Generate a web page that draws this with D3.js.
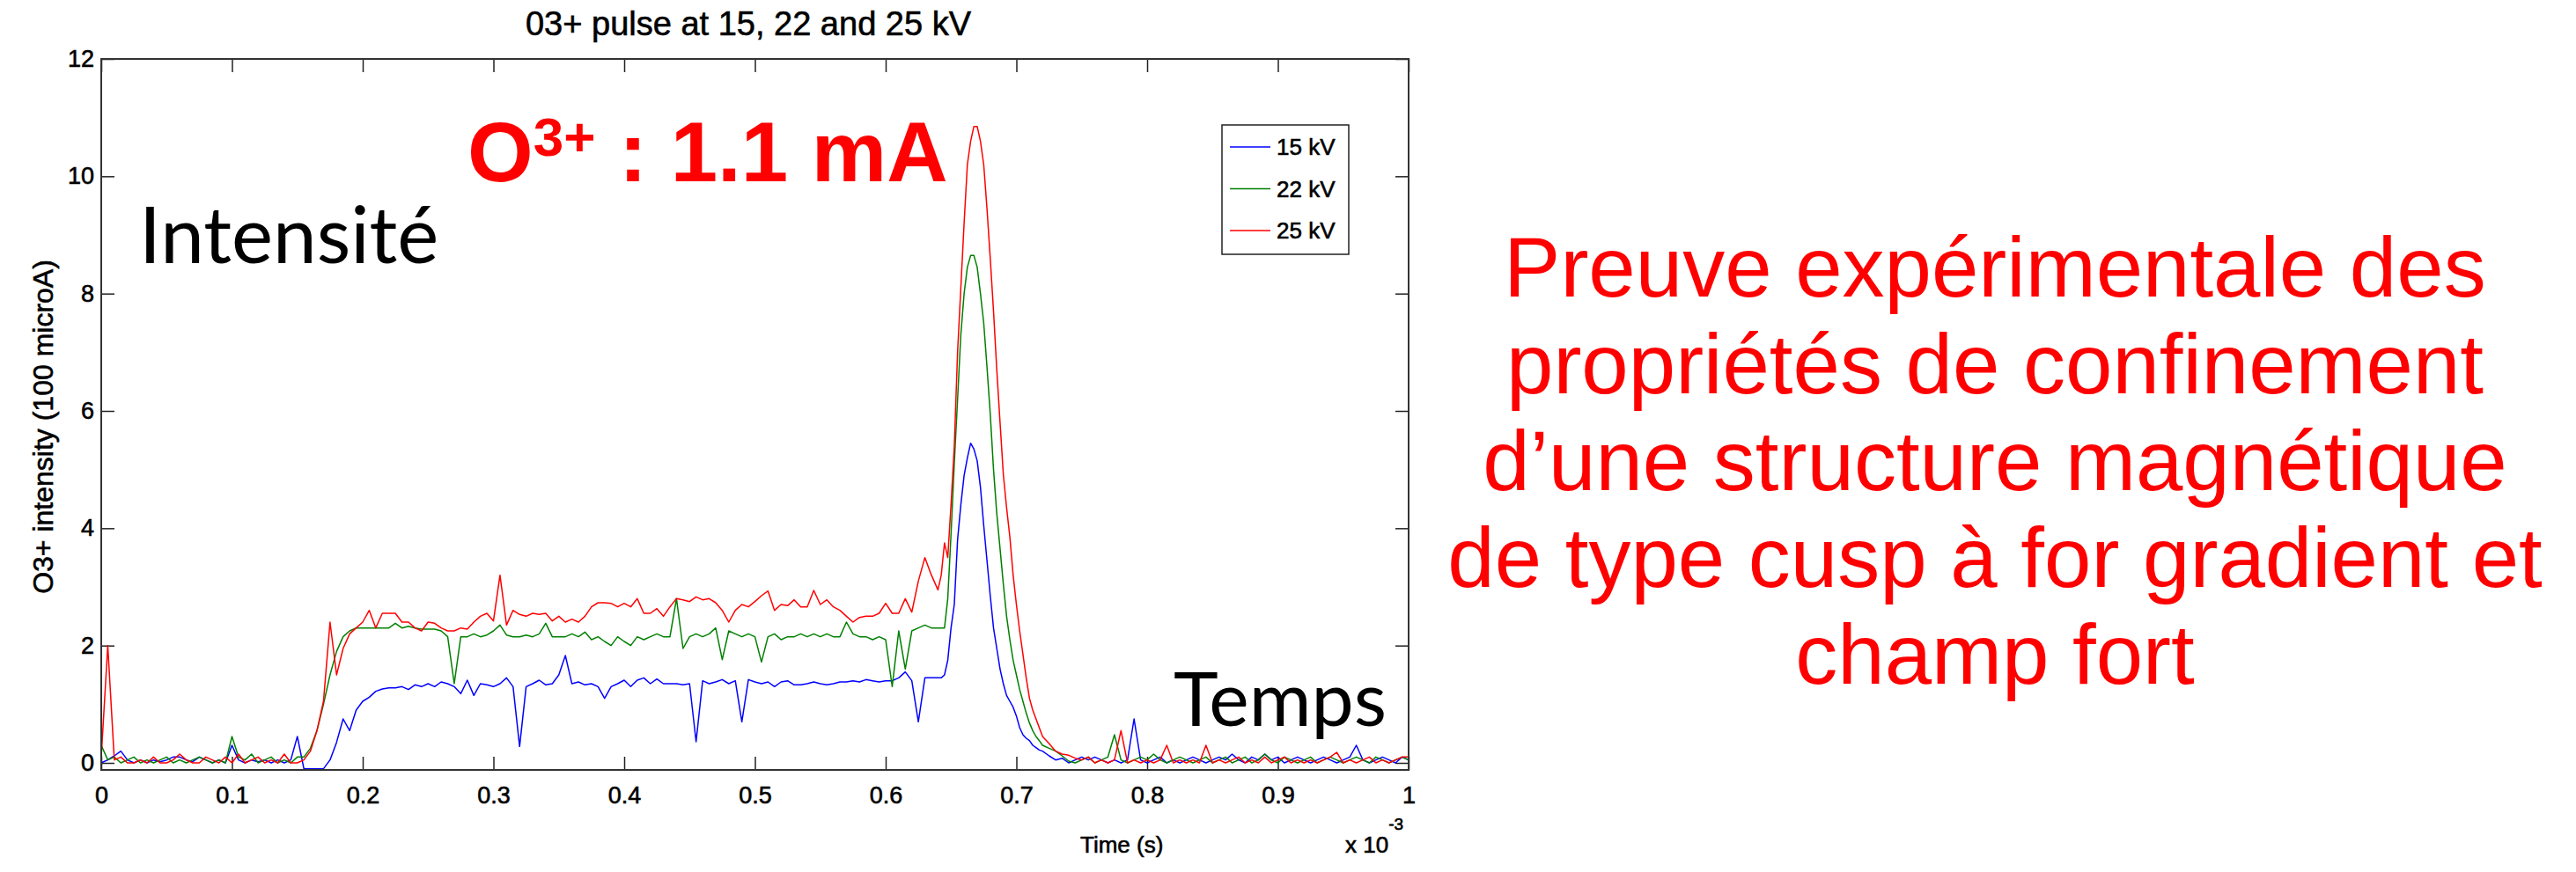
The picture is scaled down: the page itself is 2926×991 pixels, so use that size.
<!DOCTYPE html>
<meta charset="utf-8">
<html>
<head>
<script src="https://d3js.org/d3.v7.min.js"></script>
<style>
  body { margin: 0; background: #fff; }
  svg text { font-family: "Liberation Sans", Arial, sans-serif; }
  .mat { stroke: #000; stroke-width: 0.6px; }
</style>
</head>
<body>
<div id="chart"></div>
<script>
// time axis in units of 1e-3 s
const timeMs = [
  0, 0.005, 0.01, 0.015, 0.02, 0.025, 0.03, 0.035, 0.04, 0.045,
  0.05, 0.055, 0.06, 0.065, 0.07, 0.075, 0.08, 0.085, 0.09, 0.095,
  0.1, 0.105, 0.11, 0.115, 0.12, 0.125, 0.13, 0.135, 0.14, 0.145,
  0.15, 0.155, 0.16, 0.165, 0.17, 0.175, 0.18, 0.185, 0.19, 0.195,
  0.2, 0.205, 0.21, 0.215, 0.22, 0.225, 0.23, 0.235, 0.24, 0.245,
  0.25, 0.255, 0.26, 0.265, 0.27, 0.275, 0.28, 0.285, 0.29, 0.295,
  0.3, 0.305, 0.31, 0.315, 0.32, 0.325, 0.33, 0.335, 0.34, 0.345,
  0.35, 0.355, 0.36, 0.365, 0.37, 0.375, 0.38, 0.385, 0.39, 0.395,
  0.4, 0.405, 0.41, 0.415, 0.42, 0.425, 0.43, 0.435, 0.44, 0.445,
  0.45, 0.455, 0.46, 0.465, 0.47, 0.475, 0.48, 0.485, 0.49, 0.495,
  0.5, 0.505, 0.51, 0.515, 0.52, 0.525, 0.53, 0.535, 0.54, 0.545,
  0.55, 0.555, 0.56, 0.565, 0.57, 0.575, 0.58, 0.585, 0.59, 0.595,
  0.6, 0.605, 0.61, 0.615, 0.62, 0.625, 0.63, 0.635, 0.64,
  0.6425, 0.645, 0.6475, 0.65, 0.6525, 0.655, 0.6575, 0.66, 0.6625, 0.665,
  0.6675, 0.67, 0.6725, 0.675, 0.6775, 0.68, 0.6825, 0.685, 0.6875, 0.69,
  0.6925, 0.695, 0.6975, 0.7, 0.7025, 0.705, 0.7075, 0.71, 0.7125, 0.715,
  0.7175, 0.72,
  0.725, 0.73, 0.735, 0.74, 0.745, 0.75, 0.755, 0.76, 0.765, 0.77,
  0.775, 0.78, 0.785, 0.79, 0.795, 0.8, 0.805, 0.81, 0.815, 0.82,
  0.825, 0.83, 0.835, 0.84, 0.845, 0.85, 0.855, 0.86, 0.865, 0.87,
  0.875, 0.88, 0.885, 0.89, 0.895, 0.9, 0.905, 0.91, 0.915, 0.92,
  0.925, 0.93, 0.935, 0.94, 0.945, 0.95, 0.955, 0.96, 0.965, 0.97,
  0.975, 0.98, 0.985, 0.99, 0.995, 1
];

// 15 kV
const pulse15 = [
  0.0, 0.05, 0.12, 0.2, 0.05, 0.0, 0.05, 0.0, 0.05, 0.02,
  0.05, 0.1, 0.1, 0.05, 0.02, 0.1, 0.05, 0.0, 0.05, 0.0,
  0.3, 0.05, 0.0, 0.05, 0.02, 0.05, 0.0, 0.05, 0.0, 0.05,
  0.45, -0.1, -0.1, -0.1, -0.1, 0.05, 0.35, 0.75, 0.55, 0.9,
  1.05, 1.12, 1.22, 1.26, 1.28, 1.28, 1.3, 1.25, 1.33, 1.3,
  1.35, 1.3, 1.38, 1.35, 1.3, 1.18, 1.41, 1.15, 1.35, 1.33,
  1.3, 1.35, 1.45, 1.3, 0.28, 1.3, 1.35, 1.41, 1.33, 1.35,
  1.5, 1.83, 1.35, 1.38, 1.33, 1.35, 1.3, 1.1, 1.3, 1.35,
  1.41, 1.3, 1.41, 1.45, 1.35, 1.43, 1.35, 1.35, 1.35, 1.33,
  1.35, 0.36, 1.4, 1.35, 1.38, 1.42, 1.35, 1.4, 0.7, 1.42,
  1.38, 1.35, 1.38, 1.3, 1.38, 1.4, 1.33, 1.33, 1.35, 1.38,
  1.35, 1.33, 1.35, 1.38, 1.38, 1.4, 1.38, 1.42, 1.4, 1.38,
  1.4, 1.4, 1.45, 1.55, 1.4, 0.7, 1.45, 1.45, 1.45,
  1.45, 1.5, 1.75, 2.3, 2.7, 3.8, 4.4, 4.9, 5.2, 5.45,
  5.35, 5.15, 4.7, 4.05, 3.45, 2.85, 2.3, 1.95, 1.6, 1.35,
  1.15, 1.05, 0.95, 0.8, 0.6, 0.48, 0.42, 0.38, 0.3, 0.26,
  0.22, 0.2,
  0.12, 0.05, 0.08, 0.0, 0.05, 0.1, 0.05, 0.1, 0.05, 0.0,
  0.05, 0.0, 0.05, 0.75, 0.05, 0.0, 0.05, 0.1, 0.0, 0.05,
  0.0, 0.05, 0.1, 0.05, 0.0, 0.05, 0.1, 0.05, 0.15, 0.05,
  0.0, 0.1, 0.05, 0.15, 0.05, 0.1, 0.0, 0.05, 0.1, 0.05,
  0.0, 0.05, 0.1, 0.05, 0.0, 0.05, 0.1, 0.3, 0.05, 0.0,
  0.05, 0.1, 0.05, 0.0, 0.1, 0.05
];

// 22 kV
const pulse22 = [
  0.3, 0.05, 0.1, 0.0, 0.05, 0.1, 0.0, 0.05, 0.0, 0.05,
  0.1, 0.0, 0.05, 0.0, 0.05, 0.1, 0.05, 0.0, 0.05, 0.0,
  0.45, 0.1, 0.05, 0.15, 0.0, 0.05, 0.1, 0.0, 0.05, 0.0,
  0.1, 0.1, 0.25, 0.55, 1.0, 1.5, 1.9, 2.15, 2.25, 2.3,
  2.3, 2.3, 2.3, 2.3, 2.3, 2.38, 2.3, 2.33, 2.3, 2.28,
  2.28, 2.28, 2.25, 2.15, 1.35, 2.15, 2.15, 2.2, 2.15, 2.18,
  2.25, 2.35, 2.18, 2.15, 2.15, 2.18, 2.15, 2.2, 2.38, 2.15,
  2.15, 2.15, 2.2, 2.15, 2.23, 2.1, 2.15, 2.07, 2.0, 2.15,
  2.07, 2.0, 2.15, 2.1, 2.15, 2.2, 2.15, 2.15, 2.8, 1.95,
  2.15, 2.2, 2.15, 2.2, 2.3, 1.76, 2.25, 2.2, 2.15, 2.2,
  2.15, 1.72, 2.15, 2.2, 2.1, 2.15, 2.15, 2.2, 2.15, 2.2,
  2.15, 2.2, 2.15, 2.15, 2.4, 2.2, 2.15, 2.15, 2.1, 2.15,
  2.1, 1.3, 2.25, 1.6, 2.25, 2.3, 2.35, 2.3, 2.3,
  2.3, 2.3, 2.8, 3.9, 5.1, 6.2, 7.3, 8.0, 8.45, 8.65,
  8.65, 8.45, 8.0, 7.5, 6.75, 5.95, 5.0, 4.25, 3.65, 3.05,
  2.5, 2.1, 1.75, 1.5, 1.25, 1.05, 0.85, 0.68, 0.55, 0.45,
  0.38, 0.3,
  0.25, 0.2, 0.12, 0.03, 0.0, 0.05, 0.1, 0.0, 0.05, 0.1,
  0.48, 0.05, 0.0, 0.05, 0.1, 0.05, 0.15, 0.05, 0.0, 0.05,
  0.1, 0.05, 0.0, 0.05, 0.1, 0.0, 0.05, 0.1, 0.0, 0.05,
  0.1, 0.0, 0.05, 0.15, 0.05, 0.0, 0.1, 0.05, 0.0, 0.05,
  0.1, 0.0, 0.05, 0.1, 0.05, 0.0, 0.05, 0.1, 0.05, 0.0,
  0.1, 0.05, 0.0, 0.05, 0.1, 0.05
];

// 25 kV
const pulse25 = [
  0.1, 2.0, 0.05, 0.1, 0.0, 0.0, 0.05, 0.0, 0.1, 0.0,
  0.0, 0.05, 0.15, 0.05, 0.0, 0.0, 0.1, 0.05, 0.0, 0.1,
  0.0, 0.15, 0.0, 0.05, 0.1, 0.0, 0.05, 0.0, 0.15, 0.0,
  0.0, 0.05, 0.2, 0.55, 1.05, 2.4, 1.5, 1.95, 2.2, 2.3,
  2.4, 2.6, 2.3, 2.55, 2.55, 2.55, 2.4, 2.4, 2.3, 2.25,
  2.4, 2.38, 2.3, 2.25, 2.25, 2.3, 2.28, 2.4, 2.5, 2.55,
  2.42, 3.2, 2.35, 2.6, 2.53, 2.5, 2.55, 2.53, 2.55, 2.42,
  2.5, 2.4, 2.45, 2.4, 2.5, 2.66, 2.73, 2.73, 2.72, 2.66,
  2.72, 2.66, 2.8, 2.55, 2.55, 2.63, 2.5, 2.66, 2.8, 2.78,
  2.75, 2.83, 2.78, 2.8, 2.73, 2.6, 2.4, 2.6, 2.7, 2.66,
  2.75, 2.85, 2.93, 2.6, 2.7, 2.68, 2.78, 2.66, 2.66, 2.94,
  2.7, 2.78, 2.66, 2.6, 2.5, 2.4, 2.48, 2.5, 2.5, 2.55,
  2.72, 2.55, 2.55, 2.8, 2.57, 3.1, 3.5, 3.2, 2.95,
  3.2, 3.75, 3.5, 4.4, 5.4, 7.0, 8.1, 9.2, 10.2, 10.6,
  10.85, 10.85, 10.6, 10.2, 9.45, 8.6, 7.7, 6.7, 5.8, 4.92,
  4.35, 3.85, 3.2, 2.7, 2.25, 1.85, 1.45, 1.1, 0.9, 0.75,
  0.6, 0.45,
  0.33, 0.2, 0.15, 0.13, 0.08, 0.05, 0.1, 0.0, 0.05, 0.0,
  0.05, 0.55, 0.0, 0.05, 0.0, 0.05, 0.0, 0.05, 0.3, 0.0,
  0.05, 0.0, 0.05, 0.0, 0.3, 0.0, 0.05, 0.0, 0.05, 0.1,
  0.0, 0.05, 0.0, 0.1, 0.0, 0.05, 0.1, 0.0, 0.05, 0.0,
  0.05, 0.0, 0.05, 0.1, 0.18, 0.0, 0.05, 0.0, 0.05, 0.1,
  0.0, 0.05, 0.0, 0.05, 0.1, 0.1
];

const seriesNames = ["15 kV", "22 kV", "25 kV"];
const seriesColors = ["#0000ff", "#008000", "#ff0000"];
const xTicks = [0, 0.1, 0.2, 0.3, 0.4, 0.5, 0.6, 0.7, 0.8, 0.9, 1];
const yTicks = [0, 2, 4, 6, 8, 10, 12];

const slideLines = [
    "Preuve expérimentale des",
    "propriétés de confinement",
    "d’une structure magnétique",
    "de type cusp à for gradient et",
    "champ fort"
];

const W = 2926, H = 991;
const plot = { left: 115, right: 1600, top: 67, bottom: 875 };

const svg = d3.select("#chart").append("svg")
    .attr("width", W)
    .attr("height", H);

const x = d3.scaleLinear().domain([0, 1]).range([plot.left, plot.right]);
const y = d3.scaleLinear().domain([-0.12, 12]).range([plot.bottom, plot.top]);

// ticks inside the box, matlab style
const tickLen = 15;
const axisStyle = g => {
    g.select(".domain").remove();
    g.selectAll("line").attr("stroke", "#222").attr("stroke-width", 1.5);
    g.selectAll("text").attr("fill", "#000").attr("font-size", 27).attr("class", "mat");
};

svg.append("g")
    .attr("transform", `translate(0,${plot.bottom})`)
    .call(d3.axisBottom(x).tickValues(xTicks).tickSizeInner(-tickLen).tickPadding(19)
        .tickFormat(d => d3.format("")(d)))
    .call(axisStyle);
svg.append("g")
    .attr("transform", `translate(0,${plot.top})`)
    .call(d3.axisTop(x).tickValues(xTicks).tickSizeInner(-tickLen).tickFormat(""))
    .call(axisStyle);
svg.append("g")
    .attr("transform", `translate(${plot.left},0)`)
    .call(d3.axisLeft(y).tickValues(yTicks).tickSizeInner(-tickLen).tickPadding(8))
    .call(axisStyle);
svg.append("g")
    .attr("transform", `translate(${plot.right},0)`)
    .call(d3.axisRight(y).tickValues(yTicks).tickSizeInner(-tickLen).tickFormat(""))
    .call(axisStyle);

// the lines
const line = d3.line()
    .x((d, i) => x(timeMs[i]))
    .y(d => y(d));

[pulse15, pulse22, pulse25].forEach((vals, i) => {
    svg.append("path")
        .datum(vals)
        .attr("d", line)
        .attr("fill", "none")
        .attr("stroke", seriesColors[i])
        .attr("stroke-width", 1.5)
        .attr("stroke-linejoin", "round");
});

// box
svg.append("rect")
    .attr("x", plot.left).attr("y", plot.top)
    .attr("width", plot.right - plot.left).attr("height", plot.bottom - plot.top)
    .attr("fill", "none").attr("stroke", "#333").attr("stroke-width", 2);

// legend
const leg = svg.append("g").attr("transform", "translate(1388,142)");
leg.append("rect").attr("width", 144).attr("height", 147)
    .attr("fill", "#fff").attr("stroke", "#222").attr("stroke-width", 1.5);
seriesNames.forEach((name, i) => {
    const ly = 25 + i * 47.5;
    leg.append("line").attr("x1", 9).attr("x2", 55).attr("y1", ly).attr("y2", ly)
        .attr("stroke", seriesColors[i]).attr("stroke-width", 1.5);
    leg.append("text").attr("x", 62).attr("y", ly + 9).attr("class", "mat")
        .attr("font-size", 26).text(name);
});

// titles
svg.append("text").attr("x", 850).attr("y", 40).attr("class", "mat")
    .attr("text-anchor", "middle").attr("font-size", 38)
    .text("03+ pulse at 15, 22 and 25 kV");
svg.append("text").attr("class", "mat")
    .attr("transform", "translate(60,485) rotate(-90)")
    .attr("text-anchor", "middle").attr("font-size", 32)
    .text("O3+ intensity (100 microA)");
svg.append("text").attr("x", 1227).attr("y", 969).attr("class", "mat")
    .attr("font-size", 26).text("Time (s)");
const exp = svg.append("text").attr("x", 1528).attr("y", 969)
    .attr("class", "mat").attr("font-size", 26);
exp.append("tspan").text("x 10");
exp.append("tspan").attr("font-size", 19).attr("dy", -26).text("-3");

// slide annotations
svg.append("text").attr("x", 158).attr("y", 299)
    .style("font-family", "Lato, 'Open Sans', sans-serif")
    .attr("font-size", 89).text("Intensité");
svg.append("text").attr("x", 1333).attr("y", 825)
    .style("font-family", "Lato, 'Open Sans', sans-serif")
    .attr("font-size", 86).text("Temps");

const big = svg.append("text").attr("x", 531).attr("y", 206)
    .attr("font-size", 96).attr("font-weight", "bold").attr("fill", "#ff0000");
big.append("tspan").text("O");
big.append("tspan").attr("font-size", 62).attr("dy", -29).text("3+");
big.append("tspan").attr("dy", 29).text(" : 1.1 mA");

svg.append("g").selectAll("text")
    .data(slideLines)
    .join("text")
    .attr("x", 2266)
    .attr("y", (d, i) => 337 + i * 110)
    .attr("text-anchor", "middle")
    .attr("font-size", 96)
    .attr("fill", "#ff0000")
    .text(d => d);
</script>
</body>
</html>
